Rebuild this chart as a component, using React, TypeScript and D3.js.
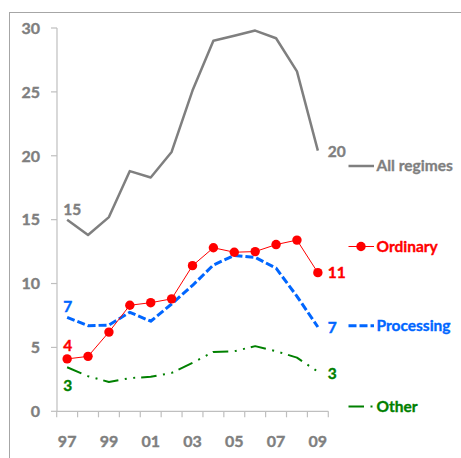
import React from "react";
import * as d3 from "d3";

const years = ["97","98","99","00","01","02","03","04","05","06","07","08","09"];
const tickYears = ["97","99","01","03","05","07","09"];
const yTicks = [0, 5, 10, 15, 20, 25, 30];

const allRegimes = [15.0, 13.8, 15.2, 18.8, 18.3, 20.3, 25.1, 29.0, 29.4, 29.8, 29.2, 26.6, 20.4];
const ordinary = [4.1, 4.3, 6.2, 8.3, 8.5, 8.8, 11.4, 12.8, 12.45, 12.5, 13.05, 13.4, 10.85];
const processing = [7.35, 6.7, 6.75, 7.75, 7.05, 8.4, 9.85, 11.45, 12.2, 12.05, 11.2, 9.0, 6.6];
const other = [3.45, 2.75, 2.3, 2.6, 2.7, 3.0, 3.8, 4.65, 4.7, 5.1, 4.7, 4.2, 3.1];

const startLabels = ["15", "4", "7", "3"];
const endLabels = ["20", "11", "7", "3"];
const seriesNames = ["All regimes", "Ordinary", "Processing", "Other"];

const W = 461, H = 458;
const FONT = "Lato, 'Open Sans', sans-serif";
const GREY_TEXT = "#7f7f7f";

export default function App() {
  const x = d3.scaleBand<string>().domain(years).range([56.7, 328.3]).padding(0);
  const cx = (i: number) => (x(years[i]) as number) + x.bandwidth() / 2;
  const y = d3.scaleLinear().domain([0, 30]).range([411.3, 28]);

  const line = d3.line<number>().x((_, i) => cx(i)).y((d) => y(d));

  const series = [
    { name: seriesNames[0], data: allRegimes, color: "#7f7f7f", width: 2.5, dash: undefined as string | undefined, start: startLabels[0], end: endLabels[0], sOff: -5, eOff: 6, legendY: 166 },
    { name: seriesNames[1], data: ordinary, color: "#ff0000", width: 1, dash: undefined, start: startLabels[1], end: endLabels[1], sOff: -8, eOff: 5.5, legendY: 246.5 },
    { name: seriesNames[2], data: processing, color: "#0066ff", width: 3, dash: "8,3", start: startLabels[2], end: endLabels[2], sOff: -5.5, eOff: 6.5, legendY: 325.7 },
    { name: seriesNames[3], data: other, color: "#008000", width: 2, dash: "15.5,6.5,2,6.5,2,6", start: startLabels[3], end: endLabels[3], sOff: 23.5, eOff: 7.5, legendY: 406.5 },
  ];

  const drawOrder = [3, 2, 1, 0];
  const txtColor = (c: string) => (c === "#7f7f7f" ? GREY_TEXT : c);

  return (
    <svg width={W} height={H} style={{ position: "absolute", left: 0, top: 0, background: "#fff" }}
      fontFamily={FONT} fontWeight={700}>
      <rect x={9.5} y={12.5} width={W + 20} height={H + 20} fill="#fff" stroke="#a6a6a6" strokeWidth={1} />

      {/* Y axis */}
      <line x1={57} x2={57} y1={y(30)} y2={y(0)} stroke="#bfbfbf" strokeWidth={1.2} />
      {yTicks.map((t) => (
        <g key={t}>
          <line x1={51} x2={57} y1={y(t)} y2={y(t)} stroke="#bfbfbf" strokeWidth={1.2} />
          <text x={40} y={y(t)} dy="0.36em" textAnchor="end" fontSize={16} fill={GREY_TEXT}
            stroke={GREY_TEXT} strokeWidth={0.4}>{t}</text>
        </g>
      ))}

      {/* X axis */}
      <line x1={56.7} x2={328.3} y1={y(0)} y2={y(0)} stroke="#bfbfbf" strokeWidth={1.2} />
      {years.map((yr) => (
        <line key={yr} x1={(x(yr) as number)} x2={(x(yr) as number)} y1={y(0)} y2={y(0) + 6} stroke="#bfbfbf" strokeWidth={1.2} />
      ))}
      <line x1={328.3} x2={328.3} y1={y(0)} y2={y(0) + 6} stroke="#bfbfbf" strokeWidth={1.2} />
      {tickYears.map((yr) => (
        <text key={yr} x={cx(years.indexOf(yr))} y={447} textAnchor="middle" fontSize={16} fill={GREY_TEXT}
          stroke={GREY_TEXT} strokeWidth={0.4}>{yr}</text>
      ))}

      {/* Lines */}
      {drawOrder.map((k) => {
        const s = series[k];
        return (
          <g key={s.name}>
            <path d={line(s.data) as string} fill="none" stroke={s.color} strokeWidth={s.width}
              strokeDasharray={s.dash} strokeLinejoin="round" />
            {k === 1 && s.data.map((v, i) => (
              <circle key={i} cx={cx(i)} cy={y(v)} r={4.7} fill={s.color} />
            ))}
          </g>
        );
      })}

      {/* Start / end labels */}
      {series.map((s) => (
        <g key={"lab" + s.name} fill={txtColor(s.color)} stroke={txtColor(s.color)} strokeWidth={0.4}>
          <text x={cx(0) - 4} y={y(s.data[0]) + s.sOff} fontSize={15.5}>{s.start}</text>
          <text x={cx(years.length - 1) + 10} y={y(s.data[years.length - 1]) + s.eOff} fontSize={15.5}>{s.end}</text>
        </g>
      ))}

      {/* Legend */}
      {series.map((s) => (
        <g key={"leg" + s.name}>
          <line x1={348.5} x2={374} y1={s.legendY} y2={s.legendY} stroke={s.color} strokeWidth={s.width}
            strokeDasharray={s.dash} />
          {s.name === "Ordinary" && <circle cx={361} cy={s.legendY} r={4.7} fill={s.color} />}
          <text x={376.5} y={s.legendY + 5} fontSize={15.5} fill={txtColor(s.color)}
            stroke={txtColor(s.color)} strokeWidth={0.35}>{s.name}</text>
        </g>
      ))}
    </svg>
  );
}
